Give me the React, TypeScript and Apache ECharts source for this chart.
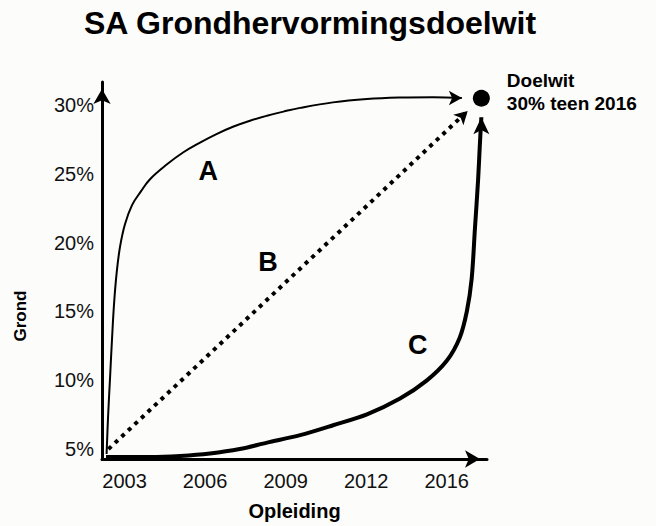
import React, { useEffect, useRef } from "react";
import * as echarts from "echarts";

// Tick positions on the (index-based) time axis and their labels
const xTickPos = [0, 1, 2, 3, 4];
const xTickLabels = ["2003", "2006", "2009", "2012", "2016"];
const yTickVals = [5, 10, 15, 20, 25, 30];

// Path A: fast early growth, levelling off
const curveA: [number, number][] = [
  [-0.223, 4.64], [-0.205, 7.31], [-0.18, 10.19], [-0.155, 13.07], [-0.13, 15.59],
  [-0.099, 17.75], [-0.056, 19.7], [0.006, 21.35], [0.093, 22.72], [0.205, 23.73],
  [0.316, 24.6], [0.527, 25.68], [0.726, 26.54], [0.937, 27.26], [1.141, 27.88],
  [1.346, 28.41], [1.557, 28.85], [1.768, 29.21], [1.973, 29.51], [2.178, 29.78],
  [2.587, 30.18], [3.009, 30.42], [3.418, 30.53], [3.828, 30.56], [4.188, 30.5],
];
// Path B: linear
const curveB: [number, number][] = [[-0.2, 5.0], [4.26, 29.56]];
// Path C: slow start, late surge
const curveC: [number, number][] = [
  [-0.23, 4.42], [0.32, 4.42], [0.69, 4.5], [1.06, 4.68], [1.43, 5.0],
  [1.77, 5.47], [2.18, 6.01], [2.59, 6.73], [3.01, 7.52], [3.42, 8.67],
  [3.75, 9.97], [4.0, 11.41], [4.16, 13.07], [4.25, 15.01], [4.31, 17.39],
  [4.35, 20.99], [4.39, 24.6], [4.41, 26.97], [4.43, 29.1],
];
const target: [number, number] = [4.43, 30.48];
const pathNames = ["A", "B", "C"];
const pathLabelPos: [number, number][] = [[1.04, 25.17], [1.78, 18.62], [3.64, 12.57]];

const FONT = "'Liberation Sans', Arial, Helvetica, sans-serif";
const INK = "#000";

function withArrow(data: [number, number][], rotate: number, size: number[]) {
  return data.map((d, i) =>
    i === data.length - 1
      ? { value: d, symbol: "arrow", symbolSize: size, symbolRotate: rotate, itemStyle: { color: INK, opacity: 1 } }
      : { value: d, symbol: "none" }
  );
}

export default function App() {
  const ref = useRef<HTMLDivElement>(null);
  useEffect(() => {
    if (!ref.current) return;
    const chart = echarts.init(ref.current, undefined, { renderer: "svg" });
    chart.setOption({
      animation: false,
      backgroundColor: "#fcfcfb",
      textStyle: { fontFamily: FONT },
      grid: { left: 102, right: 169, top: 82, bottom: 64 },
      graphic: [
        {
          type: "text",
          x: 310,
          y: 23,
          style: {
            text: "SA Grondhervormingsdoelwit",
            align: "center",
            verticalAlign: "middle",
            textAlign: "center",
            textVerticalAlign: "middle",
            font: `bold 32px ${FONT}`,
            fill: INK,
          },
        },
        {
          type: "text",
          x: 20,
          y: 316,
          rotation: Math.PI / 2,
          style: {
            text: "Grond",
            align: "center",
            verticalAlign: "middle",
            textAlign: "center",
            textVerticalAlign: "middle",
            font: `bold 17px ${FONT}`,
            fill: INK,
          },
        },
      ],
      xAxis: {
        type: "value",
        min: -0.28,
        max: 4.5,
        axisLine: {
          show: true,
          onZero: false,
          symbol: ["none", "arrow"],
          symbolSize: [13, 15],
          symbolOffset: [0, -7],
          lineStyle: { color: "#000", width: 3 },
        },
        axisTick: { show: false },
        splitLine: { show: false },
        axisLabel: {
          customValues: xTickPos,
          formatter: (v: number) => {
            const i = xTickPos.findIndex((p) => Math.abs(p - v) < 1e-6);
            return i >= 0 ? xTickLabels[i] : "";
          },
          fontSize: 20,
          color: "#111",
          margin: 12,
          fontFamily: FONT,
        },
        name: "Opleiding",
        nameLocation: "middle",
        nameGap: 42,
        nameTextStyle: { fontWeight: "bold", fontSize: 20, color: INK, fontFamily: FONT },
      },
      yAxis: {
        type: "value",
        min: 4.28,
        max: 31.66,
        axisLine: {
          show: true,
          onZero: false,
          symbol: ["none", "arrow"],
          symbolSize: [13, 15],
          symbolOffset: [0, -7],
          lineStyle: { color: "#000", width: 3 },
        },
        axisTick: { show: false },
        splitLine: { show: false },
        axisLabel: {
          customValues: yTickVals,
          formatter: (v: number) => `${Math.round(v)}%`,
          fontSize: 20,
          color: "#111",
          margin: 8,
          fontFamily: FONT,
        },
      },
      series: [
        {
          type: "line",
          name: "A",
          clip: false,
          smooth: 0.4,
          data: withArrow(curveA, -90, [11, 13]),
          lineStyle: { color: INK, width: 2 },
          itemStyle: { color: INK },
          z: 3,
        },
        {
          type: "line",
          name: "B",
          clip: false,
          data: withArrow(curveB, -46, [11, 13]),
          lineStyle: { color: INK, width: 4, type: [4, 5] },
          itemStyle: { color: INK },
          z: 3,
        },
        {
          type: "line",
          name: "C",
          clip: false,
          smooth: 0.3,
          data: withArrow(curveC, 0, [12, 17]),
          lineStyle: { color: INK, width: 4 },
          itemStyle: { color: INK },
          z: 3,
        },
        {
          type: "scatter",
          clip: false,
          symbolSize: 17,
          itemStyle: { color: "#000", opacity: 1 },
          data: [{ value: target }],
          label: {
            show: true,
            position: "right",
            distance: 17,
            offset: [0, -6],
            formatter: "Doelwit\n30% teen 2016",
            fontSize: 19,
            fontWeight: "bold",
            lineHeight: 23,
            color: INK,
            align: "left",
            fontFamily: FONT,
          },
          z: 4,
        },
        {
          type: "scatter",
          clip: false,
          symbolSize: 0,
          itemStyle: { opacity: 1 },
          data: pathNames.map((n, i) => ({ name: n, value: pathLabelPos[i] })),
          label: {
            show: true,
            position: "inside",
            formatter: "{b}",
            fontSize: 27,
            fontWeight: "bold",
            color: INK,
            fontFamily: FONT,
          },
          z: 4,
        },
      ],
    });
    return () => chart.dispose();
  }, []);
  return (
    <div
      ref={ref}
      style={{ position: "fixed", left: 0, top: 0, width: 656, height: 526 }}
    />
  );
}
